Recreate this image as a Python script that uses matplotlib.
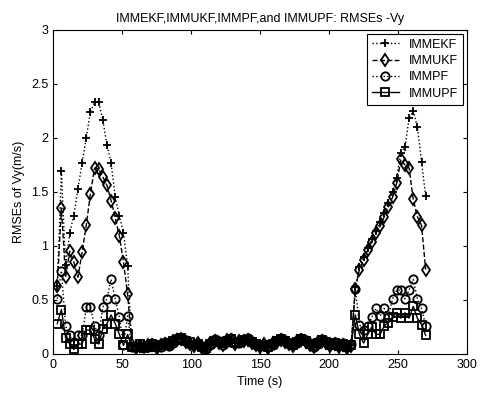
import numpy as np
import matplotlib.pyplot as plt

plt.rcParams['font.family'] = ['Liberation Sans', 'DejaVu Sans']
plt.rcParams['font.size'] = 9

# sample times (s)
t = np.arange(3, 271, 3)

ekf = [0.63, 1.69, 0.82, 1.12, 1.28, 1.53, 1.77, 2.00, 2.24, 2.33, 2.33, 2.17, 1.93, 1.77, 1.45, 1.28, 1.12, 0.81,
       0.07, 0.06, 0.08, 0.05, 0.07, 0.09, 0.06, 0.07, 0.10, 0.08, 0.11, 0.14, 0.15, 0.12, 0.10, 0.08, 0.09, 0.06,
       0.05, 0.09, 0.13, 0.11, 0.09, 0.12, 0.14, 0.10, 0.11, 0.13, 0.14, 0.11, 0.09, 0.07, 0.08, 0.06, 0.09, 0.12,
       0.14, 0.12, 0.10, 0.08, 0.11, 0.14, 0.12, 0.09, 0.07, 0.10, 0.13, 0.11, 0.08, 0.10, 0.07, 0.09, 0.06, 0.08,
       0.62, 0.80, 0.90, 0.98, 1.06, 1.14, 1.22, 1.30, 1.40, 1.50, 1.63, 1.86, 1.92, 2.18, 2.25, 2.10, 1.78, 1.46]
ukf = [0.63, 1.35, 0.71, 0.95, 0.85, 0.71, 0.94, 1.19, 1.48, 1.72, 1.71, 1.64, 1.56, 1.42, 1.26, 1.09, 0.85, 0.55,
       0.08, 0.05, 0.07, 0.06, 0.08, 0.08, 0.05, 0.08, 0.09, 0.09, 0.12, 0.13, 0.14, 0.11, 0.09, 0.07, 0.10, 0.05,
       0.06, 0.10, 0.12, 0.10, 0.08, 0.13, 0.13, 0.09, 0.12, 0.12, 0.13, 0.10, 0.08, 0.06, 0.09, 0.05, 0.10, 0.11,
       0.13, 0.11, 0.09, 0.07, 0.12, 0.13, 0.11, 0.08, 0.06, 0.11, 0.12, 0.10, 0.07, 0.09, 0.06, 0.08, 0.05, 0.07,
       0.60, 0.78, 0.87, 0.96, 1.04, 1.12, 1.18, 1.27, 1.36, 1.45, 1.58, 1.80, 1.75, 1.72, 1.43, 1.27, 1.19, 0.78]
pf = [0.51, 0.77, 0.26, 0.17, 0.10, 0.17, 0.17, 0.43, 0.43, 0.26, 0.17, 0.43, 0.51, 0.69, 0.51, 0.34, 0.08, 0.35,
      0.06, 0.07, 0.06, 0.07, 0.06, 0.10, 0.07, 0.06, 0.11, 0.07, 0.10, 0.15, 0.14, 0.13, 0.09, 0.09, 0.08, 0.07,
      0.04, 0.08, 0.14, 0.12, 0.08, 0.11, 0.15, 0.11, 0.10, 0.14, 0.15, 0.12, 0.08, 0.08, 0.07, 0.07, 0.08, 0.13,
      0.15, 0.13, 0.09, 0.09, 0.10, 0.15, 0.13, 0.10, 0.06, 0.09, 0.14, 0.12, 0.09, 0.11, 0.08, 0.10, 0.07, 0.09,
      0.60, 0.27, 0.22, 0.26, 0.34, 0.42, 0.35, 0.42, 0.34, 0.51, 0.59, 0.59, 0.51, 0.59, 0.69, 0.51, 0.42, 0.26]
upf = [0.28, 0.41, 0.15, 0.09, 0.04, 0.09, 0.09, 0.22, 0.22, 0.14, 0.09, 0.23, 0.28, 0.36, 0.28, 0.18, 0.08, 0.18,
       0.06, 0.06, 0.09, 0.05, 0.06, 0.09, 0.06, 0.08, 0.09, 0.08, 0.12, 0.13, 0.15, 0.12, 0.11, 0.08, 0.09, 0.06,
       0.05, 0.09, 0.12, 0.11, 0.10, 0.12, 0.14, 0.10, 0.11, 0.13, 0.13, 0.11, 0.09, 0.07, 0.08, 0.06, 0.09, 0.12,
       0.14, 0.12, 0.10, 0.08, 0.11, 0.14, 0.12, 0.09, 0.07, 0.10, 0.13, 0.11, 0.08, 0.10, 0.07, 0.09, 0.06, 0.08,
       0.36, 0.18, 0.10, 0.18, 0.25, 0.18, 0.18, 0.26, 0.29, 0.34, 0.38, 0.33, 0.38, 0.33, 0.44, 0.33, 0.27, 0.17]

fig = plt.figure(figsize=(4.83, 3.94), dpi=100)
ax = fig.add_axes([0.110, 0.102, 0.857, 0.822])

kw = dict(color='k', linewidth=1.0, markersize=6, markerfacecolor='none', markeredgewidth=1.3)
ax.plot(t, ekf, ':', marker='+', label='IMMEKF', **kw)
ax.plot(t, ukf, '--', marker='d', label='IMMUKF', **kw)
ax.plot(t, pf, ':', marker='o', label='IMMPF', **kw)
ax.plot(t, upf, '-', marker='s', label='IMMUPF', **kw)

ax.set_xlim(0, 300)
ax.set_ylim(0, 3)
ax.set_xticks(np.arange(0, 301, 50))
ax.set_yticks([0, 0.5, 1, 1.5, 2, 2.5, 3])
ax.set_yticklabels(['0', '0.5', '1', '1.5', '2', '2.5', '3'])
ax.tick_params(direction='in', top=True, right=True, length=3, labelsize=9)
ax.set_xlabel('Time (s)', fontsize=9)
ax.set_ylabel('RMSEs of Vy(m/s)', fontsize=9)
ax.set_title('IMMEKF,IMMUKF,IMMPF,and IMMUPF: RMSEs -Vy', fontsize=9)

leg = ax.legend(loc='upper right', fancybox=False, edgecolor='k', framealpha=1,
                handlelength=2.2, borderpad=0.4, labelspacing=0.35, fontsize=9,
                borderaxespad=0.3)
leg.get_frame().set_linewidth(0.8)

fig.savefig('out.png', dpi=100)
